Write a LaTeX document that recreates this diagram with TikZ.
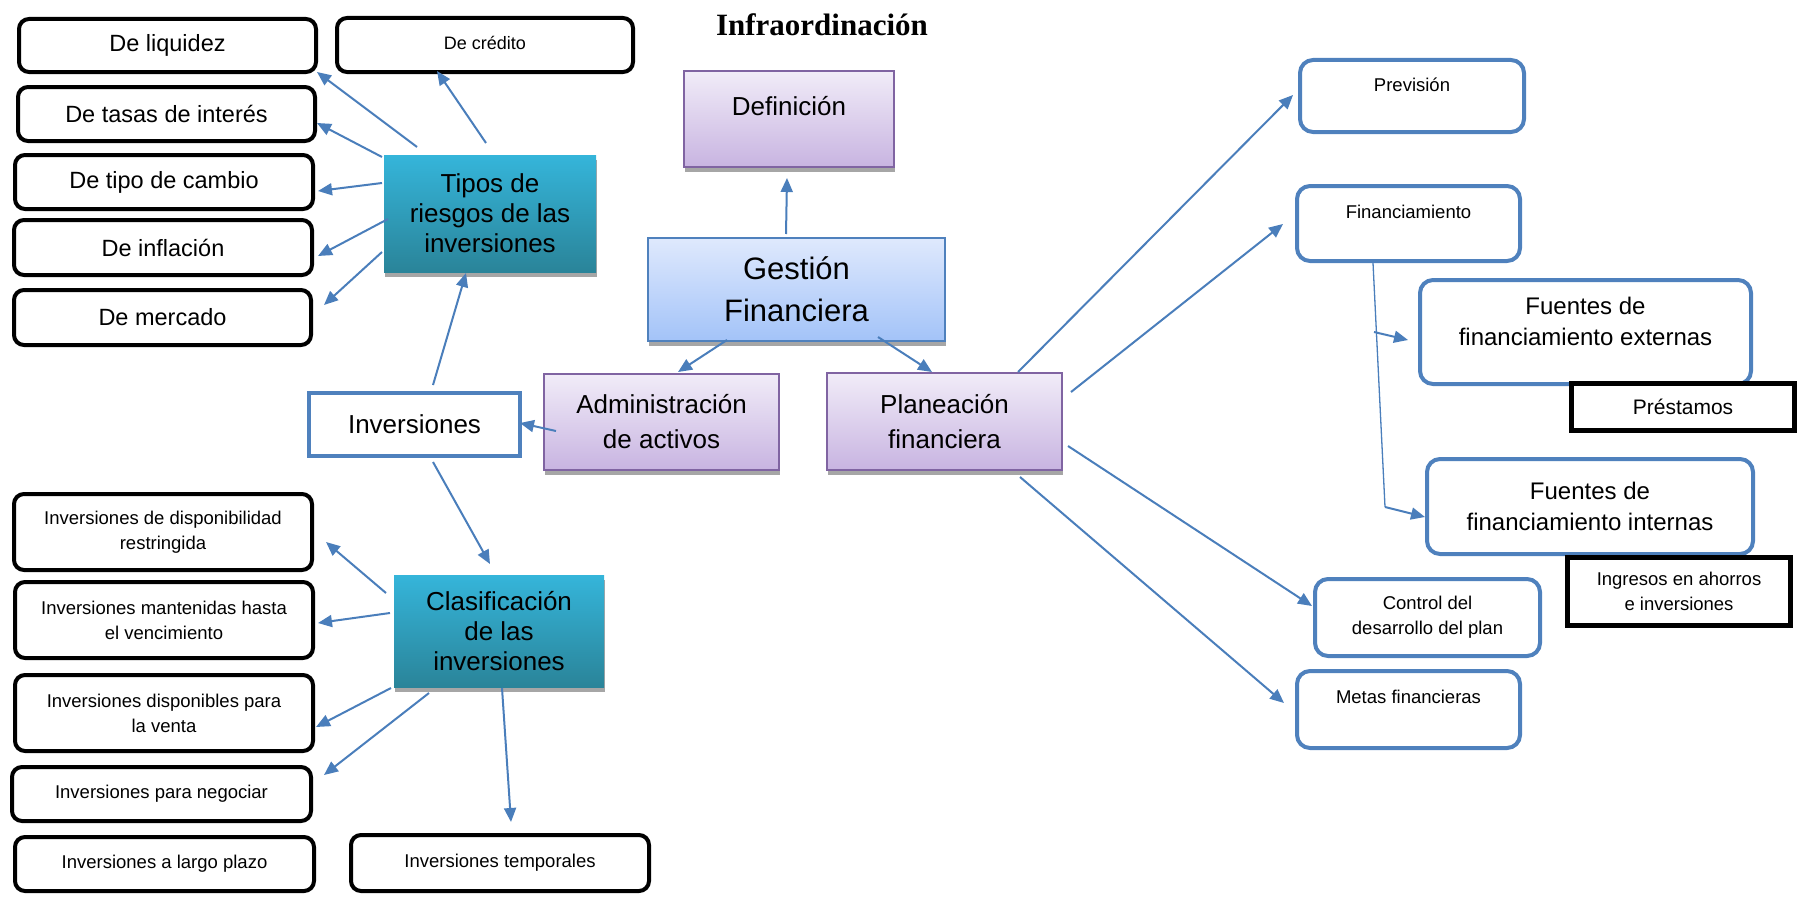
\documentclass[tikz,border=0pt]{standalone}
\usepackage{fontspec}
\setmainfont{Liberation Sans}
\newfontfamily\titlefont{Liberation Serif}
\usetikzlibrary{arrows.meta,calc,shadows}
\newcommand{\fsz}[2]{\fontsize{#1}{#2}\selectfont}
\definecolor{arrowblue}{HTML}{4A7EBB}
\definecolor{boxblue}{HTML}{4F81BD}
\definecolor{tealtop}{HTML}{35B5DA}
\definecolor{tealbot}{HTML}{2A8499}
\definecolor{purtop}{HTML}{F1ECF8}
\definecolor{purbot}{HTML}{C8B4E1}
\definecolor{purborder}{HTML}{8064A2}
\definecolor{gesttop}{HTML}{DFE9FD}
\definecolor{gestbot}{HTML}{A3C3F8}
\definecolor{shadowgray}{HTML}{A6A6A6}
\tikzset{
  shad/.style={drop shadow={shadow xshift=1pt, shadow yshift=-4.5pt, fill=shadowgray, opacity=1}},
  blk/.style={draw=black, line width=4pt, rounded corners=10pt, fill=white, align=center, inner sep=0pt},
  sqblk/.style={draw=black, line width=5pt, fill=white, align=center, inner sep=0pt},
  bluebox/.style={draw=boxblue, line width=4pt, rounded corners=13pt, fill=white, align=center, inner sep=0pt},
  tealbox/.style={top color=tealtop, bottom color=tealbot, draw=none, align=center, inner sep=0pt, shad},
  purplebox/.style={top color=purtop, bottom color=purbot, draw=purborder, line width=2pt, align=center, inner sep=0pt, shad},
  gestbox/.style={top color=gesttop, bottom color=gestbot, draw=boxblue, line width=2pt, align=center, inner sep=0pt, shad},
  invbox/.style={draw=boxblue, line width=4pt, fill=white, align=center, inner sep=0pt},
  toptext/.style 2 args={inner ysep=0pt, text height=#1, text depth=#2},
  arr/.style={draw=arrowblue, line width=2pt, -{Triangle[length=14pt,width=12pt]}},
  thinline/.style={draw=arrowblue, line width=1.3pt},
  bigtxt/.style={font=\fsz{23.5}{28}},
  smalltxt/.style={font=\fsz{18.5}{25}},
  midtxt/.style={font=\fsz{26}{30}},
}
\begin{document}
\begin{tikzpicture}[x=1pt,y=-1pt]
\useasboundingbox (0,0) rectangle (1798,899);

% title
\node[font={\titlefont\bfseries\fsz{31}{36}}] (title) at (822,25) {Infraordinación};

% left risk boxes
\node[blk,bigtxt,minimum width=297pt,minimum height=53pt] (liq) at (167.5,45.5) {De liquidez};
\node[blk,font=\fsz{18}{22},minimum width=296pt,toptext={31pt}{23pt}] (cred) at (485,45) {De crédito};
\node[blk,bigtxt,minimum width=297pt,minimum height=54pt] (tasas) at (166.5,114) {De tasas de interés};
\node[blk,bigtxt,minimum width=298pt,minimum height=54pt] (cambio) at (164,182) {De tipo de cambio};
\node[blk,bigtxt,minimum width=298pt,minimum height=55pt] (infl) at (163,247.5) {De inflación};
\node[blk,bigtxt,minimum width=297pt,minimum height=55pt] (merc) at (162.5,317.5) {De mercado};

\node[tealbox,midtxt,minimum width=212pt,minimum height=117pt] (tipos) at (490,213.5) {Tipos de\\riesgos de las\\inversiones};

% center
\node[purplebox,midtxt,minimum width=210pt,toptext={44pt}{52pt}] (def) at (789,119) {Definición};
\node[gestbox,font=\fsz{31}{42},minimum width=297pt,minimum height=103pt] (gest) at (796.5,289.5) {Gestión\\Financiera};
\node[purplebox,font=\fsz{26}{35},minimum width=235pt,minimum height=96pt] (admin) at (661.5,422) {Administración\\de activos};
\node[purplebox,font=\fsz{26}{35},minimum width=235pt,minimum height=97pt] (plan) at (944.5,421.5) {Planeación\\financiera};
\node[invbox,midtxt,minimum width=211pt,minimum height=63pt] (inv) at (414.5,424.5) {Inversiones};

% clasificacion
\node[tealbox,midtxt,minimum width=210pt,minimum height=112pt] (clas) at (499,631) {Clasificación\\de las\\inversiones};
\node[blk,smalltxt,minimum width=298pt,minimum height=76pt] (restr) at (163,532) {Inversiones de disponibilidad\\restringida};
\node[blk,smalltxt,minimum width=298pt,minimum height=76pt] (mant) at (164,620) {Inversiones mantenidas hasta\\el vencimiento};
\node[blk,smalltxt,minimum width=298pt,minimum height=76pt] (venta) at (164,713) {Inversiones disponibles para\\la venta};
\node[blk,smalltxt,minimum width=299pt,minimum height=54pt] (negoc) at (161.5,794) {Inversiones para negociar};
\node[blk,smalltxt,minimum width=299pt,minimum height=54pt] (largo) at (164.5,864) {Inversiones a largo plazo};
\node[blk,smalltxt,minimum width=298pt,minimum height=56pt] (temp) at (500,863) {Inversiones temporales};

% right side
\node[bluebox,smalltxt,minimum width=224pt,toptext={32pt}{40pt}] (prev) at (1412,96) {Previsión};
\node[bluebox,smalltxt,minimum width=223pt,toptext={32pt}{43pt}] (finan) at (1408.5,223.5) {Financiamiento};
\node[bluebox,font=\fsz{24}{31},minimum width=331pt,minimum height=104pt] (fext) at (1585.5,332)
  {\raisebox{8pt}[\height][\depth]{\begin{tabular}{@{}c@{}}Fuentes de\\financiamiento externas\end{tabular}}};
\node[sqblk,font=\fsz{21}{25},minimum width=223pt,minimum height=47pt] (prest) at (1683,407) {Préstamos};
\node[bluebox,font=\fsz{24}{31},minimum width=326pt,minimum height=95pt] (fint) at (1590,506.5) {Fuentes de\\financiamiento internas};
\node[sqblk,smalltxt,minimum width=223pt,minimum height=68pt] (ingr) at (1679,591.5) {Ingresos en ahorros\\e inversiones};
\node[bluebox,smalltxt,minimum width=225pt,minimum height=77pt] (ctrl) at (1427.5,617.5) {Control del\\desarrollo del plan};
\node[bluebox,smalltxt,minimum width=223pt,toptext={32pt}{45pt}] (metas) at (1408.5,709.5) {Metas financieras};

% connectors: tipos
\draw[arr] ($(tipos.center)+(-73,-66.5)$) -- ($(liq.center)+(149.5,26.5)$);
\draw[arr] ($(tipos.center)+(-4,-70.5)$) -- ($(cred.center)+(-48,26)$);
\draw[arr] ($(tipos.center)+(-108,-56.5)$) -- ($(tasas.center)+(150.5,9)$);
\draw[arr] ($(tipos.center)+(-108,-30.5)$) -- ($(cambio.center)+(154,9)$);
\draw[arr] ($(tipos.center)+(-102,5.5)$) -- ($(infl.center)+(155,8.5)$);
\draw[arr] ($(tipos.center)+(-108,38.5)$) -- ($(merc.center)+(161.5,-12.5)$);

% inversiones
\draw[arr] ($(inv.center)+(18.5,-39.5)$) -- ($(tipos.center)+(-24,59.5)$);
\draw[arr] ($(inv.center)+(18.5,37.5)$) -- ($(clas.center)+(-9,-67)$);
\draw[arr] ($(admin.center)+(-105.5,9)$) -- ($(inv.center)+(105.5,-1.5)$);

% gestion
\draw[arr] ($(gest.center)+(-10.5,-55.5)$) -- ($(def.center)+(-2,59)$);
\draw[arr] ($(gest.center)+(-69.5,50.5)$) -- ($(admin.center)+(16.5,-50)$);
\draw[arr] ($(gest.center)+(81.5,47.5)$) -- ($(plan.center)+(-12.5,-49.5)$);

% planeacion
\draw[arr] ($(plan.center)+(73.5,-49.5)$) -- ($(prev.center)+(-119,-1)$);
\draw[arr] ($(plan.center)+(126.5,-29.5)$) -- ($(finan.center)+(-125.5,0.5)$);
\draw[arr] ($(plan.center)+(123.5,24.5)$) -- ($(ctrl.center)+(-115.5,-11.5)$);
\draw[arr] ($(plan.center)+(75.5,55.5)$) -- ($(metas.center)+(-124.5,-6.5)$);

% clasificacion
\draw[arr] ($(clas.center)+(-113,-38)$) -- ($(restr.center)+(163,10)$);
\draw[arr] ($(clas.center)+(-109,-18)$) -- ($(mant.center)+(154,3)$);
\draw[arr] ($(clas.center)+(-108,57)$) -- ($(venta.center)+(152,14)$);
\draw[arr] ($(clas.center)+(-70,62)$) -- ($(negoc.center)+(162.5,-19)$);
\draw[arr] ($(clas.center)+(3,57)$) -- ($(temp.center)+(11,-41)$);

% financiamiento branches
\coordinate (fjoin) at (1385,507);
\coordinate (fbranch) at (1374,332);
\draw[thinline] ($(finan.center)+(-35.5,39.5)$) -- (fjoin);
\draw[arr] (fjoin) -- ($(fint.center)+(-165,10.5)$);
\draw[arr] (fbranch) -- ($(fext.center)+(-177.5,8)$);
\end{tikzpicture}
\end{document}
